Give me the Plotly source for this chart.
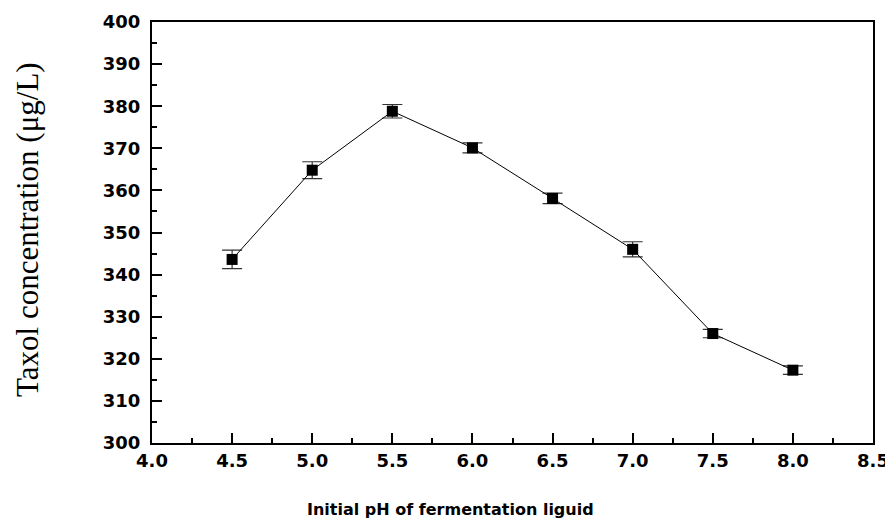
import plotly.graph_objects as go

ph = [4.5, 5.0, 5.5, 6.0, 6.5, 7.0, 7.5, 8.0]
taxol = [343.6, 364.8, 378.8, 370.1, 358.1, 346.0, 326.0, 317.3]
err = [2.2, 2.0, 1.6, 1.2, 1.25, 1.8, 1.0, 1.0]

x_ticks = [4.0, 4.5, 5.0, 5.5, 6.0, 6.5, 7.0, 7.5, 8.0, 8.5]
y_ticks = list(range(300, 401, 10))

L, R, T, B = 152, 873, 22, 443
W, H = 885, 523

fig = go.Figure()
fig.add_trace(go.Scatter(
    x=ph, y=taxol, mode="lines+markers",
    line=dict(color="black", width=1),
    marker=dict(symbol="square", size=11, color="black"),
    error_y=dict(type="data", array=err, visible=True, color="#333333",
                 thickness=1.2, width=10),
    showlegend=False,
))

tf = dict(family="DejaVu Sans", size=18, color="black")
fig.update_layout(
    width=W, height=H,
    margin=dict(l=L, r=W - R, t=T, b=H - B, autoexpand=False),
    paper_bgcolor="white", plot_bgcolor="white",
    xaxis=dict(
        range=[4.0, 8.5], tickvals=x_ticks, ticktext=[f"<b>{v:.1f}</b>" for v in x_ticks],
        ticks="inside", ticklen=10, tickwidth=1.5, tickcolor="black",
        showline=True, linecolor="black", linewidth=2, mirror=True,
        showgrid=False, zeroline=False, automargin=False,
        tickfont=tf, ticklabeloverflow="allow",
        minor=dict(ticks="inside", ticklen=5, dtick=0.25, tick0=4.0, tickcolor="black", tickwidth=1.5),
    ),
    yaxis=dict(
        range=[300, 400], tickvals=y_ticks, ticktext=[f"<b>{v}</b>" for v in y_ticks],
        ticks="inside", ticklen=10, tickwidth=1.5, tickcolor="black",
        showline=True, linecolor="black", linewidth=2, mirror=True,
        showgrid=False, zeroline=False, automargin=False,
        tickfont=tf, ticklabelstandoff=6,
        minor=dict(ticks="inside", ticklen=5, dtick=5, tick0=300, tickcolor="black", tickwidth=1.5),
    ),
    annotations=[
        dict(
            text="<b>Initial pH of fermentation liguid</b>", xref="paper", yref="paper",
            x=(450 - L) / (R - L), y=-(509 - B) / (B - T),
            xanchor="center", yanchor="middle", showarrow=False,
            font=dict(family="DejaVu Sans", size=16, color="black"),
        ),
        dict(
            text="Taxol concentration (μg/L)", xref="paper", yref="paper",
            x=-(L - 27) / (R - L), y=0.5 - (230 - (T + B) / 2) / (B - T),
            xanchor="center", yanchor="middle", showarrow=False, textangle=-90,
            font=dict(family="Liberation Serif, Times New Roman", size=31, color="black"),
        ),
    ],
)

fig.write_html("out.html", config={"displayModeBar": False},
               post_script="document.body.style.margin='0';document.body.style.overflow='hidden';")
